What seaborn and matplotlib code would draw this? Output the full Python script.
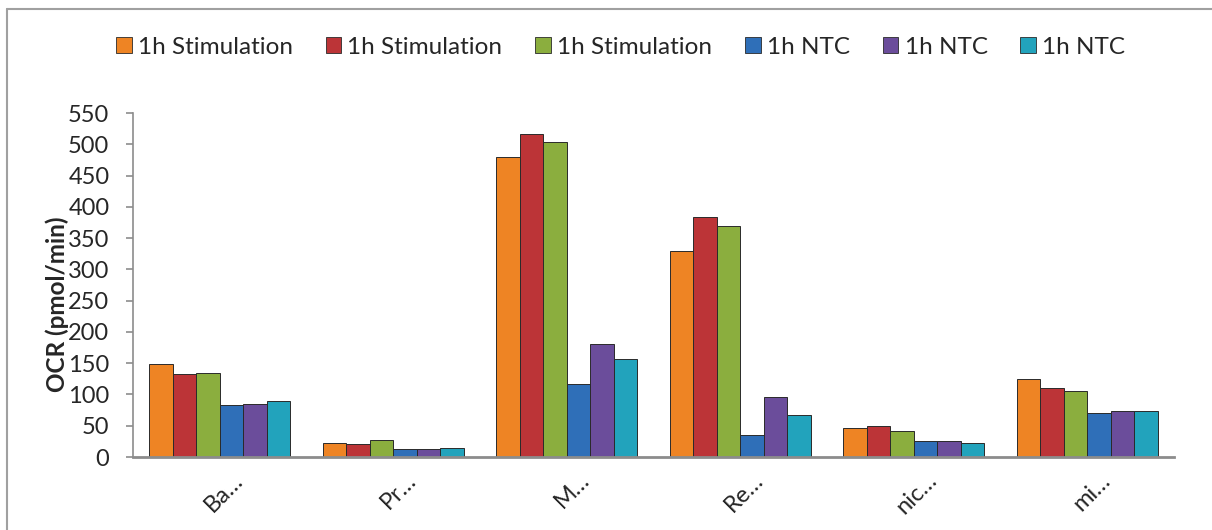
import numpy as np
import pandas as pd
import matplotlib.pyplot as plt
import matplotlib.transforms as mtransforms
import seaborn as sns
from matplotlib.lines import Line2D

# Values
categories = ['Ba…', 'Pr…', 'M…', 'Re…', 'nic…', 'mi…']
series_labels = ['1h Stimulation', '1h Stimulation', '1h Stimulation',
                 '1h NTC', '1h NTC', '1h NTC']
stim_1 = [148, 22, 479, 330, 47, 125]
stim_2 = [132, 20, 516, 383, 50, 111]
stim_3 = [134, 27, 504, 370, 41, 106]
ntc_1 = [83, 12, 117, 35, 25, 70]
ntc_2 = [85, 12, 181, 96, 25, 73]
ntc_3 = [89, 14, 156, 67, 23, 74]
colors = ['#EE8424', '#BC3437', '#8BAE3E', '#2F6FB8', '#6B4D9B', '#22A3BC']

all_series = [stim_1, stim_2, stim_3, ntc_1, ntc_2, ntc_3]
keys = [f's{i}' for i in range(len(all_series))]
rows = []
for key, vals in zip(keys, all_series):
    for cat, v in zip(categories, vals):
        rows.append({'cat': cat, 'series': key, 'ocr': v})
df = pd.DataFrame(rows)

sns.set_style('white')
plt.rcParams['font.family'] = ['Lato', 'DejaVu Sans']

fig = plt.figure(figsize=(12.12, 5.30), dpi=100)
ax = fig.add_axes([133 / 1212, 1 - 457 / 530, 1041 / 1212, (457 - 113) / 530])

sns.barplot(data=df, x='cat', y='ocr', hue='series', order=categories,
            hue_order=keys, palette=dict(zip(keys, colors)), width=0.81,
            saturation=1, edgecolor='#2a2a2a', linewidth=0.7, legend=False, ax=ax)

ax.set_ylim(0, 550)
ax.set_xlim(-0.5, len(categories) - 0.5)
ax.set_yticks(np.arange(0, 551, 50))
ax.tick_params(axis='y', labelsize=17, length=5, width=1.2, direction='out',
               color='#8c8c8c', left=True, pad=12)
ax.tick_params(axis='x', labelsize=17, length=0, pad=9)
plt.setp(ax.get_xticklabels(), rotation=45, ha='right', rotation_mode='anchor')
shift = mtransforms.ScaledTranslation(12 / 100, 0, fig.dpi_scale_trans)
for lab in ax.get_xticklabels():
    lab.set_transform(lab.get_transform() + shift)

ax.set_xlabel('')
ax.set_ylabel('OCR (pmol/min)', fontsize=17.5, fontweight='bold')
ax.yaxis.set_label_coords(-0.061, 0.445)

sns.despine(ax=ax, top=True, right=True)
ax.spines['left'].set_color('#8c8c8c')
ax.spines['left'].set_linewidth(1.2)
ax.spines['bottom'].set_color('#8c8c8c')
ax.spines['bottom'].set_linewidth(2)

# legend across the top
handles = [plt.Rectangle((0, 0), 1, 1, facecolor=c, edgecolor='#2a2a2a', linewidth=0.6)
           for c in colors]
fig.legend(handles, series_labels, loc='center', bbox_to_anchor=(0.512, 1 - 47 / 530),
           ncol=6, frameon=False, fontsize=17.5, handlelength=0.65, handleheight=0.6,
           handletextpad=0.25, columnspacing=1.35)

# outer chart border (only left and top visible)
fig.add_artist(Line2D([7 / 1212, 7 / 1212], [0, 1 - 9 / 530], color='#a0a0a0', lw=1.5))
fig.add_artist(Line2D([7 / 1212, 1], [1 - 9 / 530, 1 - 9 / 530], color='#a0a0a0', lw=1.5))

fig.savefig('out.png', dpi=100)
